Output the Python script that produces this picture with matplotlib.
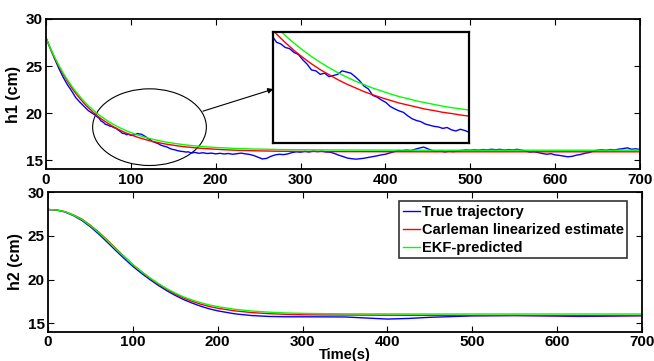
"""
Two-tank level estimates: true trajectory vs Carleman linearised vs EKF.
Top panel h1 with a zoomed inset, bottom panel h2 with legend.
"""

import matplotlib
matplotlib.use("Agg")
import matplotlib.pyplot as plt
from matplotlib.patches import Ellipse

plt.rcParams["font.family"] = ["Liberation Sans", "DejaVu Sans"]
plt.rcParams["font.weight"] = "bold"
plt.rcParams["axes.labelweight"] = "bold"

# ---- h1 smooth estimates (s, cm) ----
t_h1 = [0, 5, 10, 15, 20, 25, 30, 35, 40, 45, 50, 55, 60, 65, 70, 75, 80, 85,
        90, 95, 100, 105, 110, 115, 120, 125, 130, 135, 140, 145, 150, 155,
        160, 165, 170, 175, 180, 190, 200, 210, 220, 230, 240, 250, 275, 300,
        350, 400, 450, 500, 600, 700]
h1_carleman = [28.00, 26.90, 25.90, 24.99, 24.16, 23.41, 22.72, 22.10, 21.54,
               21.02, 20.56, 20.13, 19.75, 19.39, 19.08, 18.79, 18.52, 18.28,
               18.06, 17.86, 17.69, 17.52, 17.37, 17.24, 17.11, 17.00, 16.90,
               16.81, 16.72, 16.65, 16.58, 16.51, 16.46, 16.40, 16.36, 16.31,
               16.27, 16.21, 16.15, 16.10, 16.06, 16.03, 16.01, 15.98, 15.94,
               15.92, 15.90, 15.89, 15.88, 15.88, 15.88, 15.88]
h1_ekf = [28.00, 26.94, 25.98, 25.10, 24.30, 23.57, 22.91, 22.30, 21.75, 21.24,
          20.78, 20.37, 19.98, 19.64, 19.32, 19.03, 18.77, 18.53, 18.31, 18.11,
          17.93, 17.76, 17.61, 17.47, 17.35, 17.23, 17.13, 17.03, 16.94, 16.87,
          16.79, 16.73, 16.67, 16.61, 16.56, 16.52, 16.48, 16.40, 16.34, 16.30,
          16.25, 16.22, 16.19, 16.17, 16.12, 16.10, 16.07, 16.06, 16.05, 16.05,
          16.05, 16.05]

# ---- h1 true (noisy) trajectory: 5 s steps, 2.5 s through the zoomed part ----
t_h1_true = (list(range(0, 60, 5))
             + [57.5 + 2.5 * i for i in range(54)]
             + list(range(195, 705, 5)))
h1_true = [28.00, 26.88, 25.80, 24.78, 23.85, 23.05, 22.38, 21.65, 21.15, 20.70,
           20.25, 19.95,
           # 57.5 .. 190 (2.5 s)
           19.82, 19.62, 19.45, 19.15, 19.02, 18.80, 18.74, 18.62, 18.58, 18.45,
           18.38, 18.20, 18.05, 17.85, 17.82, 17.70, 17.74, 17.62, 17.66, 17.70,
           17.82, 17.78, 17.74, 17.62, 17.48, 17.30, 17.20, 16.98, 16.92, 16.82,
           16.74, 16.60, 16.52, 16.45, 16.40, 16.28, 16.18, 16.12, 16.08, 16.00,
           15.96, 15.92, 15.90, 15.85, 15.88, 15.80, 15.76, 15.82, 15.78, 15.72,
           15.75, 15.78, 15.74, 15.70,
           # 195 .. 700 (5 s)
           15.74, 15.66, 15.72, 15.65, 15.70, 15.62, 15.68, 15.74, 15.66, 15.60,
           15.48, 15.30, 15.12, 15.18, 15.40, 15.55, 15.62, 15.58, 15.66, 15.80,
           15.88, 15.84, 15.92, 15.86, 15.95, 15.90, 15.94, 15.86, 15.84, 15.70,
           15.52, 15.38, 15.22, 15.15, 15.10, 15.14, 15.20, 15.28, 15.35, 15.45,
           15.55, 15.62, 15.75, 15.88, 16.02, 15.98, 16.08, 16.00, 16.15, 16.28,
           16.38, 16.20, 16.02, 15.92, 15.98, 15.86, 15.95, 15.90, 15.98, 16.02,
           16.08, 16.04, 16.10, 16.05, 16.12, 16.08, 16.15, 16.10, 16.14, 16.06,
           16.12, 16.08, 16.14, 16.06, 15.98, 15.85, 15.88, 15.80, 15.70, 15.62,
           15.68, 15.55, 15.50, 15.42, 15.35, 15.40, 15.52, 15.60, 15.72, 15.80,
           15.95, 16.05, 16.10, 16.04, 16.12, 16.08, 16.16, 16.22, 16.30, 16.15,
           16.20, 16.12]

# ---- h2 (s, cm) ----
t_h2 = [0, 10, 20, 30, 40, 50, 60, 70, 80, 90, 100, 110, 120, 130, 140, 150,
        160, 170, 180, 190, 200, 220, 240, 260, 280, 300, 325, 350, 375, 400,
        425, 450, 500, 550, 600, 625, 650, 700]
h2_true = [28.00, 27.94, 27.72, 27.30, 26.75, 26.02, 25.18, 24.25, 23.30, 22.38,
           21.50, 20.72, 20.00, 19.33, 18.72, 18.18, 17.70, 17.30, 16.95, 16.65,
           16.42, 16.08, 15.88, 15.78, 15.74, 15.74, 15.73, 15.72, 15.60, 15.48,
           15.55, 15.68, 15.84, 15.88, 15.82, 15.78, 15.80, 15.86]
h2_carleman = [28.00, 27.95, 27.76, 27.38, 26.90, 26.20, 25.40, 24.50, 23.55,
               22.60, 21.70, 20.90, 20.15, 19.48, 18.87, 18.35, 17.88, 17.50,
               17.18, 16.92, 16.72, 16.42, 16.22, 16.10, 16.02, 15.97, 15.95,
               15.94, 15.93, 15.92, 15.91, 15.90, 15.89, 15.89, 15.88, 15.88,
               15.88, 15.88]
h2_ekf = [28.00, 27.95, 27.75, 27.35, 26.85, 26.15, 25.35, 24.45, 23.50, 22.58,
          21.70, 20.92, 20.20, 19.55, 18.95, 18.45, 18.00, 17.65, 17.35, 17.10,
          16.90, 16.60, 16.40, 16.27, 16.18, 16.13, 16.10, 16.08, 16.07, 16.07,
          16.06, 16.06, 16.06, 16.06, 16.06, 16.06, 16.06, 16.06]

labels = ["True trajectory", "Carleman linearized estimate", "EKF-predicted"]
colors = ["#0000ff", "#ff0000", "#00ff00"]
x_ticks = [0, 100, 200, 300, 400, 500, 600, 700]
y_ticks = [15, 20, 25, 30]


def style_axes(ax):
    ax.set_xlim(0, 700)
    ax.set_ylim(14, 30)
    ax.set_xticks(x_ticks)
    ax.set_yticks(y_ticks)
    ax.tick_params(direction="in", length=4, width=0.8, top=True, right=True,
                   labelsize=11, pad=2.5)
    for s in ax.spines.values():
        s.set_linewidth(1.3)


fig = plt.figure(figsize=(6.54, 3.61), dpi=100)

# top panel: h1
ax1 = fig.add_axes([0.0703, 0.5305, 0.9083, 0.4169])
ax1.plot(t_h1_true, h1_true, color=colors[0], lw=1.0)
ax1.plot(t_h1, h1_carleman, color=colors[1], lw=1.0)
ax1.plot(t_h1, h1_ekf, color=colors[2], lw=1.0)
style_axes(ax1)
ax1.set_ylabel("h1 (cm)", fontsize=11.5, labelpad=3)

ell = Ellipse((122, 18.5), 134, 8.15, fill=False, edgecolor="black", lw=0.8,
              clip_on=False)
ax1.add_patch(ell)
ax1.annotate("", xy=(268, 22.55), xytext=(185, 20.2),
             arrowprops=dict(arrowstyle="-|>", color="black", lw=0.8,
                             mutation_scale=8, shrinkA=0, shrinkB=0))

# zoomed inset
axi = fig.add_axes([0.4174, 0.6039, 0.2997, 0.3075])
axi.plot(t_h1_true, h1_true, color=colors[0], lw=1.0)
axi.plot(t_h1, h1_carleman, color=colors[1], lw=1.0)
axi.plot(t_h1, h1_ekf, color=colors[2], lw=1.0)
axi.set_xlim(68, 180)
axi.set_ylim(15.35, 19.15)
axi.set_xticks([])
axi.set_yticks([])
for s in axi.spines.values():
    s.set_linewidth(1.6)

# bottom panel: h2
ax2 = fig.add_axes([0.0734, 0.0803, 0.9083, 0.3878])
ax2.plot(t_h2, h2_true, color=colors[0], lw=1.0, label=labels[0])
ax2.plot(t_h2, h2_carleman, color=colors[1], lw=1.0, label=labels[1])
ax2.plot(t_h2, h2_ekf, color=colors[2], lw=1.0, label=labels[2])
style_axes(ax2)
ax2.set_ylabel("h2 (cm)", fontsize=11.5, labelpad=3)
ax2.set_xlabel("Time(s)", fontsize=10.5, labelpad=-1)

leg = ax2.legend(loc="upper right", bbox_to_anchor=(0.975, 0.936), fontsize=10.5,
                 frameon=True, fancybox=False, handlelength=1.2,
                 handletextpad=0.1, borderpad=0.25, labelspacing=0.28,
                 borderaxespad=0)
leg.get_frame().set_edgecolor("black")
leg.get_frame().set_linewidth(1.2)

fig.savefig("out.png", dpi=100)
